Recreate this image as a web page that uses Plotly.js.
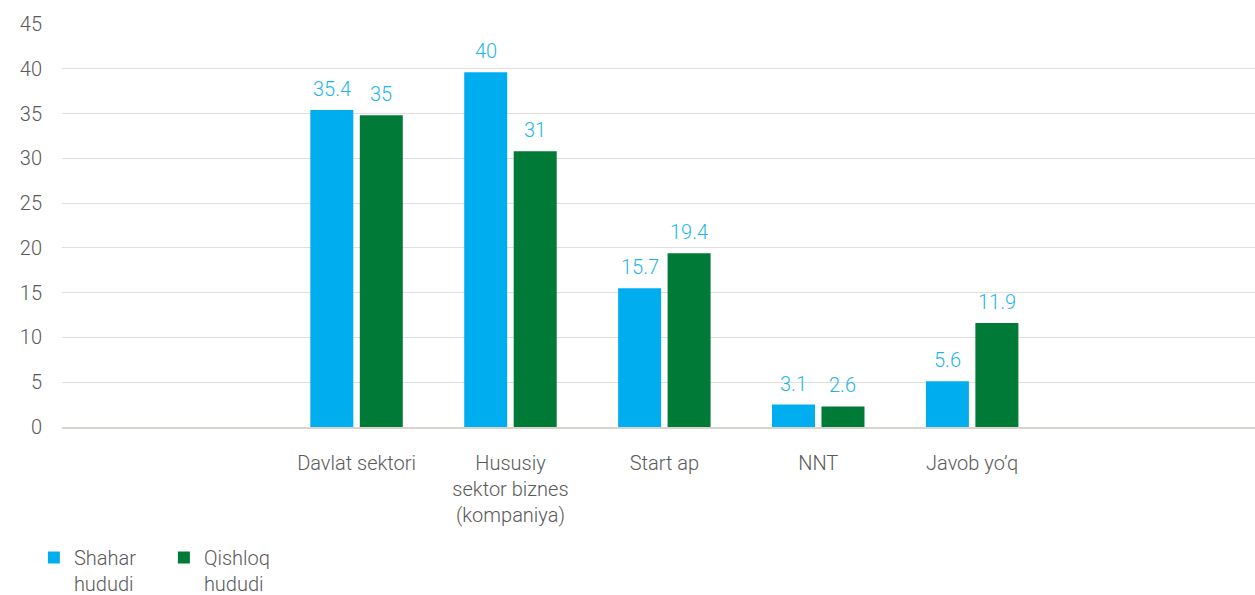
<!DOCTYPE html>
<html>
<head>
<meta charset="utf-8">
<script src="https://cdn.plot.ly/plotly-3.0.1.min.js"></script>
<style>html,body{margin:0;padding:0;background:#fff;}#chart{width:1255px;height:595px;}</style>
</head>
<body>
<div id="chart"></div>
<script>
const categories = ["Davlat sektori", "Hususiy<br>sektor biznes<br>(kompaniya)", "Start ap", "NNT", "Javob yo’q"];
const seriesNames = ["Shahar<br>hududi", "Qishloq<br>hududi"];
const shaharValues = [35.4, 39.6, 15.5, 2.5, 5.1];
const qishloqValues = [34.8, 30.8, 19.4, 2.3, 11.6];
const shaharLabels = ["35.4", "40", "15.7", "3.1", "5.6"];
const qishloqLabels = ["35", "31", "19.4", "2.6", "11.9"];
const yTicks = [0, 5, 10, 15, 20, 25, 30, 35, 40, 45];

const FONT = "Roboto, 'Liberation Sans', Arial, sans-serif";
const FS = 20;
const TXT = "#595959";
const LBL = "#1fb6ec";
const bargap = 0.357;
const bargroupgap = 0.131;
const off = (1 - bargap) / 4;

const traces = [
  {type: "bar", name: seriesNames[0], x: categories, y: shaharValues,
   marker: {color: "#00aeef"}, hoverinfo: "none"},
  {type: "bar", name: seriesNames[1], x: categories, y: qishloqValues,
   marker: {color: "#007a37"}, hoverinfo: "none"}
];

const annotations = [];
categories.forEach((c, i) => {
  annotations.push({x: i - off, y: shaharValues[i], xref: "x", yref: "y", text: shaharLabels[i],
    showarrow: false, yanchor: "middle", yshift: 21, font: {family: FONT, size: FS, color: LBL, weight: 300}});
  annotations.push({x: i + off, y: qishloqValues[i], xref: "x", yref: "y", text: qishloqLabels[i],
    showarrow: false, yanchor: "middle", yshift: 21, font: {family: FONT, size: FS, color: LBL, weight: 300}});
});

const layout = {
  width: 1255, height: 595,
  margin: {l: 62, r: 0, t: 24, b: 168},
  paper_bgcolor: "#ffffff", plot_bgcolor: "#ffffff",
  barmode: "group", bargap: bargap, bargroupgap: bargroupgap,
  font: {family: FONT, size: FS, color: TXT, weight: 300},
  xaxis: {
    type: "category", range: [-1.914, 5.838],
    showgrid: false, showline: true, linecolor: "#d9d3cd", linewidth: 2,
    ticks: "outside", ticklen: 17, tickcolor: "rgba(0,0,0,0)",
    tickfont: {family: FONT, size: FS, color: TXT, weight: 300},
    fixedrange: true
  },
  yaxis: {
    range: [0, 45], tickvals: yTicks, ticktext: yTicks.map(String),
    showgrid: true, gridcolor: "#e3ded9", gridwidth: 1,
    zeroline: false, showline: false,
    ticks: "outside", ticklen: 15, tickcolor: "rgba(0,0,0,0)",
    tickfont: {family: FONT, size: FS, color: TXT, weight: 300},
    fixedrange: true
  },
  showlegend: true,
  legend: {
    orientation: "h", xref: "container", yref: "container",
    x: 0.027, y: 1 - 538 / 595, xanchor: "left", yanchor: "top",
    valign: "top", entrywidth: 85, entrywidthmode: "pixels",
    font: {family: FONT, size: FS, color: TXT, weight: 300},
    bgcolor: "rgba(0,0,0,0)"
  },
  annotations: annotations
};

Plotly.newPlot("chart", traces, layout, {displayModeBar: false, staticPlot: true});
</script>
</body>
</html>
